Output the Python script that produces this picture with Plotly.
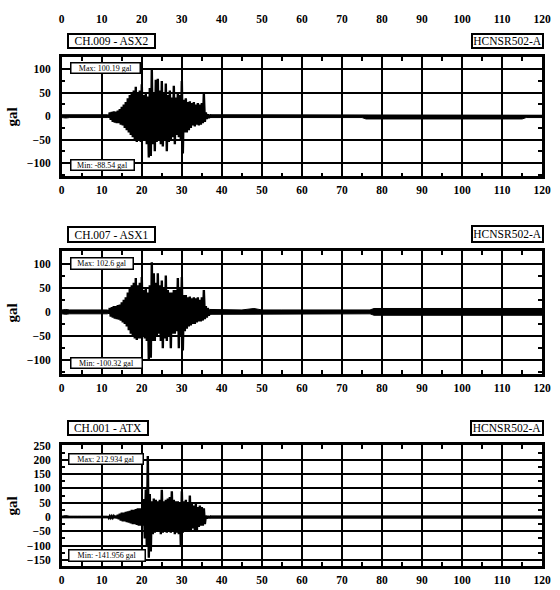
import plotly.graph_objects as go

W, H = 560, 590

# ---------------- data ----------------
# common sampling grid for the strong-motion part (s)
strong_t = [11.5 + 0.5 * i for i in range(52)]

# CH.009 - ASX2
asx2_pre_t = [0, 1, 2, 3, 4, 5, 6, 7, 8, 9, 10, 11, 11.5]
asx2_pre_up = [3, 3, 2.5, 3, 3, 2.5, 3, 3, 2.5, 3, 3, 3, 3]
asx2_pre_lo = [-3, -4, -3, -3, -3, -4, -3, -3, -3, -4, -3, -3, -3]
asx2_up = [3, 8, 9, 10, 10, 12, 15, 20, 25, 30,
           38, 45, 50, 55, 63, 50, 55, 68, 45, 48,
           42, 60, 100.19, 50, 78, 80, 55, 75, 50, 70,
           45, 55, 40, 65, 40, 50, 45, 75, 35, 38,
           30, 32, 28, 30, 25, 28, 25, 28, 48, 8,
           4, 3]
asx2_lo = [-3, -8, -12, -14, -15, -15, -18, -20, -25, -30,
           -35, -40, -45, -50, -55, -50, -55, -50, -50, -60,
           -88.54, -85, -60, -75, -55, -50, -60, -65, -50, -75,
           -55, -50, -45, -60, -40, -45, -50, -80, -35, -35,
           -30, -25, -20, -22, -18, -20, -18, -15, -12, -6,
           -4, -3]
asx2_post_t = [37, 38, 40, 45, 50, 55, 60, 65, 70, 75, 76, 80, 85, 90, 95, 100, 105, 110, 115, 116, 120]
asx2_post_up = [3, 3, 3, 3, 3, 3, 3, 3, 3, 3, 2, 2, 2, 2, 2, 2, 2, 2, 2, 2, 2]
asx2_post_lo = [-3, -3, -3, -3, -3, -3, -3, -3, -3, -3, -6, -6, -6, -6, -6, -6, -6, -6, -6, -3, -3]

# CH.007 - ASX1
asx1_pre_t = [0, 1, 2, 3, 4, 5, 6, 7, 8, 9, 10, 11, 11.5]
asx1_pre_up = [4, 5, 4, 4, 4, 4, 4, 5, 4, 4, 5, 4, 4]
asx1_pre_lo = [-4, -5, -4, -4, -5, -4, -4, -4, -4, -5, -4, -4, -4]
asx1_up = [4, 8, 10, 12, 12, 14, 15, 20, 25, 30,
           40, 50, 55, 60, 70, 55, 60, 72, 45, 50,
           40, 55, 102.6, 80, 60, 80, 55, 65, 50, 75,
           45, 40, 40, 45, 45, 70, 50, 72, 35, 35,
           30, 32, 28, 30, 28, 30, 25, 30, 45, 12,
           8, 5]
asx1_lo = [-4, -10, -12, -14, -15, -16, -18, -22, -25, -30,
           -38, -45, -50, -55, -58, -55, -55, -50, -55, -60,
           -100.32, -95, -60, -60, -50, -45, -60, -75, -55, -60,
           -50, -75, -45, -45, -40, -75, -50, -80, -40, -35,
           -30, -28, -25, -25, -22, -20, -20, -18, -15, -12,
           -8, -5]
asx1_post_t = [37, 38, 40, 45, 48, 50, 55, 60, 65, 70, 75, 77, 78, 80, 85, 90, 95, 100, 105, 110, 115, 120]
asx1_post_up = [5, 5, 4, 4, 7, 4, 4, 4, 4, 4, 4, 4, 7, 7, 7, 7, 7, 8, 7, 7, 7, 7]
asx1_post_lo = [-5, -5, -4, -4, -4, -4, -4, -4, -4, -4, -4, -4, -7, -7, -7, -7, -7, -7, -7, -7, -7, -7]

# CH.001 - ATX
atx_pre_t = [0, 1, 2, 3, 4, 5, 6, 7, 8, 9, 10, 11, 11.5]
atx_pre_up = [3, 5, 3, 4, 3, 3, 3, 3, 3, 3, 3, 3, 3]
atx_pre_lo = [-3, -4, -3, -3, -3, -3, -3, -3, -3, -3, -3, -3, -3]
atx_up = [3, 3, 3, 3, 4, 8, 12, 15, 15, 18,
          20, 22, 25, 25, 28, 30, 30, 30, 63, 96,
          212.934, 80, 55, 65, 60, 55, 60, 95, 55, 60,
          65, 70, 90, 60, 55, 55, 50, 90, 55, 60,
          45, 75, 45, 40, 45, 35, 40, 35, 30, 5,
          4, 3]
atx_lo = [-3, -3, -3, -3, -4, -8, -12, -15, -15, -18,
          -20, -22, -25, -25, -28, -30, -30, -30, -75, -100,
          -141.956, -120, -60, -55, -50, -50, -60, -55, -50, -55,
          -50, -55, -50, -60, -55, -60, -100, -55, -50, -50,
          -45, -50, -40, -45, -50, -35, -30, -30, -25, -5,
          -4, -3]
atx_post_t = [37, 38, 40, 45, 50, 55, 60, 65, 70, 75, 80, 85, 90, 95, 100, 105, 110, 115, 120]
atx_post_up = [4, 4, 4, 4, 4, 5, 4, 4, 5, 4, 5, 4, 4, 6, 6, 5, 4, 4, 4]
atx_post_lo = [-4, -4, -4, -4, -4, -4, -4, -4, -4, -4, -4, -4, -4, -5, -5, -4, -4, -4, -4]

channel_labels = ["CH.009 - ASX2", "CH.007 - ASX1", "CH.001 - ATX"]
station_label = "HCNSR502-A"
max_labels = ["Max: 100.19 gal", "Max: 102.6 gal", "Max: 212.934 gal"]
min_labels = ["Min: -88.54 gal", "Min: -100.32 gal", "Min: -141.956 gal"]
x_ticks = [0, 10, 20, 30, 40, 50, 60, 70, 80, 90, 100, 110, 120]
y_ranges = [[-128.5, 125.5], [-129, 125], [-172, 250]]

# ---------------- layout geometry (pixels) ----------------
plot_x0, plot_x1 = 60, 551
panel_px = [(52, 172), (248, 372), (444, 566)]
title_boxes = [(65, 154, 27, 43), (65, 154, 222, 239), (65, 147, 418, 434)]
station_boxes = [(478, 551, 27, 43), (478, 551, 221, 239), (477, 551, 418, 434)]
max_boxes = [(68, 139, 57, 69), (68, 132, 254, 267), (66, 142, 452, 464)]
min_boxes = [(68, 133, 155, 167), (68, 141, 355, 367), (66, 144, 549, 562)]

pre = [(asx2_pre_t, asx2_pre_up, asx2_pre_lo), (asx1_pre_t, asx1_pre_up, asx1_pre_lo),
       (atx_pre_t, atx_pre_up, atx_pre_lo)]
strong = [(asx2_up, asx2_lo), (asx1_up, asx1_lo), (atx_up, atx_lo)]
post = [(asx2_post_t, asx2_post_up, asx2_post_lo), (asx1_post_t, asx1_post_up, asx1_post_lo),
        (atx_post_t, atx_post_up, atx_post_lo)]

FONT = "Liberation Serif"
fig = go.Figure()


def band(t, up, lo, xa, ya):
    fig.add_trace(go.Scatter(x=t, y=lo, xaxis=xa, yaxis=ya, mode="lines",
                             line=dict(color="black", width=1), hoverinfo="skip", showlegend=False))
    fig.add_trace(go.Scatter(x=t, y=up, xaxis=xa, yaxis=ya, mode="lines", fill="tonexty",
                             fillcolor="black", line=dict(color="black", width=1),
                             hoverinfo="skip", showlegend=False))


half_step = 0.25
for i in range(3):
    xa = "x" if i == 0 else f"x{i+1}"
    ya = "y" if i == 0 else f"y{i+1}"
    band(*pre[i], xa, ya)
    band(*post[i], xa, ya)
    # strong-motion part: oscillating trace between the peaks read from the record
    zx, zy = [], []
    for t, u, l in zip(strong_t, strong[i][0], strong[i][1]):
        zx += [t, t + half_step]
        zy += [u, l]
    fig.add_trace(go.Scatter(x=zx, y=zy, xaxis=xa, yaxis=ya, mode="lines",
                             line=dict(color="black", width=2.4), hoverinfo="skip",
                             showlegend=False))

# dummy trace for the top tick-label axis of the first panel
fig.add_trace(go.Scatter(x=[0, 120], y=[None, None], xaxis="x4", yaxis="y", mode="lines",
                         hoverinfo="skip", showlegend=False))

tickfont = dict(family=FONT, size=11.5, color="black", weight="bold")
layout = dict(width=W, height=H, margin=dict(l=0, r=0, t=0, b=0),
              paper_bgcolor="white", plot_bgcolor="white", showlegend=False)

for i in range(3):
    top, bot = panel_px[i]
    xkey = "xaxis" if i == 0 else f"xaxis{i+1}"
    ykey = "yaxis" if i == 0 else f"yaxis{i+1}"
    yanchor = "y" if i == 0 else f"y{i+1}"
    xanchor = "x" if i == 0 else f"x{i+1}"
    layout[xkey] = dict(domain=[plot_x0 / W, plot_x1 / W], anchor=yanchor, range=[0, 120],
                        tickvals=x_ticks, showgrid=True, gridcolor="black", gridwidth=2,
                        showline=True, linecolor="black", linewidth=2.5, mirror="ticks",
                        ticks="inside", ticklen=4, tickwidth=2, tickcolor="black",
                        minor=dict(dtick=5, tick0=0, ticks="inside", ticklen=4, tickwidth=2,
                                   tickcolor="black", showgrid=False),
                        tickfont=tickfont, zeroline=False, ticklabelstandoff=1, fixedrange=True)
    layout[ykey] = dict(domain=[1 - bot / H, 1 - top / H], anchor=xanchor, range=y_ranges[i],
                        dtick=50, tick0=0, showgrid=True, gridcolor="black", gridwidth=2,
                        showline=True, linecolor="black", linewidth=2.5, mirror="ticks",
                        ticks="inside", ticklen=4, tickwidth=2, tickcolor="black",
                        minor=dict(dtick=25, tick0=0, ticks="inside", ticklen=4, tickwidth=2,
                                   tickcolor="black", showgrid=False),
                        tickfont=tickfont, zeroline=False, ticklabelstandoff=6,
                        title=dict(text="gal", font=dict(family=FONT, size=15, color="black",
                                                         weight="bold"), standoff=6),
                        fixedrange=True)

layout["xaxis4"] = dict(overlaying="x", side="top", anchor="free", position=1 - 19 / H,
                        range=[0, 120], tickvals=x_ticks, showgrid=False, showline=False,
                        ticks="", tickfont=tickfont, zeroline=False, fixedrange=True)

annotations = []


def box(text, b, size, bw):
    x0, x1, y0, y1 = b
    return dict(text=text, xref="paper", yref="paper", x=x0 / W, y=1 - y0 / H,
                xanchor="left", yanchor="top", showarrow=False, align="center",
                width=x1 - x0 - 2 * bw, height=y1 - y0 - 2 * bw, borderpad=0,
                bgcolor="white", bordercolor="black", borderwidth=bw,
                font=dict(family=FONT, size=size, color="black"))


for i in range(3):
    annotations.append(box(channel_labels[i], title_boxes[i], 11.5, 2))
    annotations.append(box(station_label, station_boxes[i], 11.5, 2))
    annotations.append(box(max_labels[i], max_boxes[i], 8, 1.5))
    annotations.append(box(min_labels[i], min_boxes[i], 8, 1.5))

layout["annotations"] = annotations
fig.update_layout(**layout)
fig.write_html("out.html")
